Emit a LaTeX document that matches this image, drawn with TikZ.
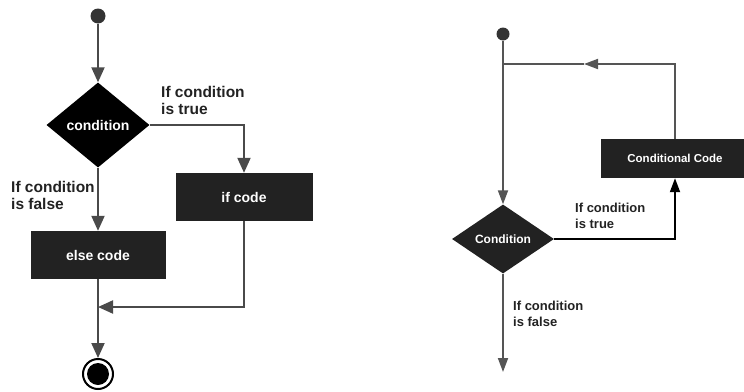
\documentclass[tikz,border=0pt]{standalone}
\usepackage{fontspec}
\setmainfont{Liberation Sans}
\usetikzlibrary{shapes.geometric,arrows.meta}
\definecolor{linegray}{HTML}{4A4A4A}
\definecolor{linegrayR}{HTML}{555555}
\definecolor{boxfill}{HTML}{222222}
\definecolor{labelc}{HTML}{222222}
\begin{document}
\begin{tikzpicture}[x=1pt,y=-1pt,
  flowL/.style={draw=linegray, line width=2pt},
  arrL/.style={flowL, -{Triangle[length=15pt,width=13pt]}},
  flowR/.style={draw=linegrayR, line width=1.8pt},
  arrR/.style={flowR, -{Triangle[length=14pt,width=10pt]}},
  arrRk/.style={draw=black, line width=1.8pt, -{Triangle[length=14pt,width=10pt]}},
  codebox/.style={rectangle, fill=boxfill, text=white, inner sep=0pt},
  decision/.style={diamond, text=white, inner sep=0pt},
  startdot/.style={circle, fill=black!80, inner sep=0pt},
  lblL/.style={text=labelc, align=left, inner sep=0pt, anchor=north west,
    font=\fontsize{15.5}{17.5}\selectfont\bfseries},
  lblR/.style={text=labelc, align=left, inner sep=0pt, anchor=north west,
    font=\fontsize{13}{16}\selectfont\bfseries}
]
\useasboundingbox (0,0) rectangle (744,391);

% ---------------- left: if / else ----------------
\node[startdot, minimum size=15pt] (s1) at (98,16) {};
\node[decision, fill=black, minimum width=103pt, minimum height=85pt,
  font=\fontsize{14}{16}\selectfont\bfseries] (c1) at (98,125) {condition};
\node[codebox, minimum width=137pt, minimum height=48pt,
  font=\fontsize{14}{16}\selectfont\bfseries] (ic) at (244,197) {if code};
\node[codebox, minimum width=135pt, minimum height=48pt,
  font=\fontsize{14}{16}\selectfont\bfseries] (ec) at (98,255) {else code};
\node[circle, draw=black, line width=2pt, minimum size=30pt, inner sep=0pt] (e1) at (98,374) {};
\fill[black] (e1.center) circle (11pt);
\coordinate (m1) at (98,307);

\node[lblL] (t1) at (161,86) {If condition\\is true};
\node[lblL] (f1) at (11,181) {If condition\\is false};

\draw[arrL] (s1) -- (c1.north);
\draw[arrL] (c1.east) -| (ic.north);
\draw[arrL] (c1.south) -- (ec.north);
\draw[arrL] (ec.south) -- (e1.north);
\draw[arrL] (ic.south) |- (m1);

% ---------------- right: loop ----------------
\node[startdot, minimum size=13pt] (s2) at (503,34) {};
\coordinate (j2) at (503,64);
\coordinate (a2) at (584,64);
\coordinate (f2) at (503,372);
\node[decision, fill=boxfill, minimum width=102pt, minimum height=69pt,
  font=\fontsize{12}{14}\selectfont\bfseries] (c2) at (503,239) {Condition};
\node[codebox, minimum width=148pt, minimum height=39pt,
  font=\fontsize{11.5}{13}\selectfont\bfseries] (cc) at (675,158.5) {Conditional Code};

\node[lblR] (t2) at (575,202.5) {If condition\\is true};
\node[lblR] (f2l) at (513,300.5) {If condition\\is false};

\draw[arrR] (s2) -- (c2.north);
\draw[arrR] (cc.north) |- (a2);
\draw[flowR] (a2) -- (j2);
\draw[arrRk] (c2.east) -| (cc.south);
\draw[arrR] (c2.south) -- (f2);
\end{tikzpicture}
\end{document}
